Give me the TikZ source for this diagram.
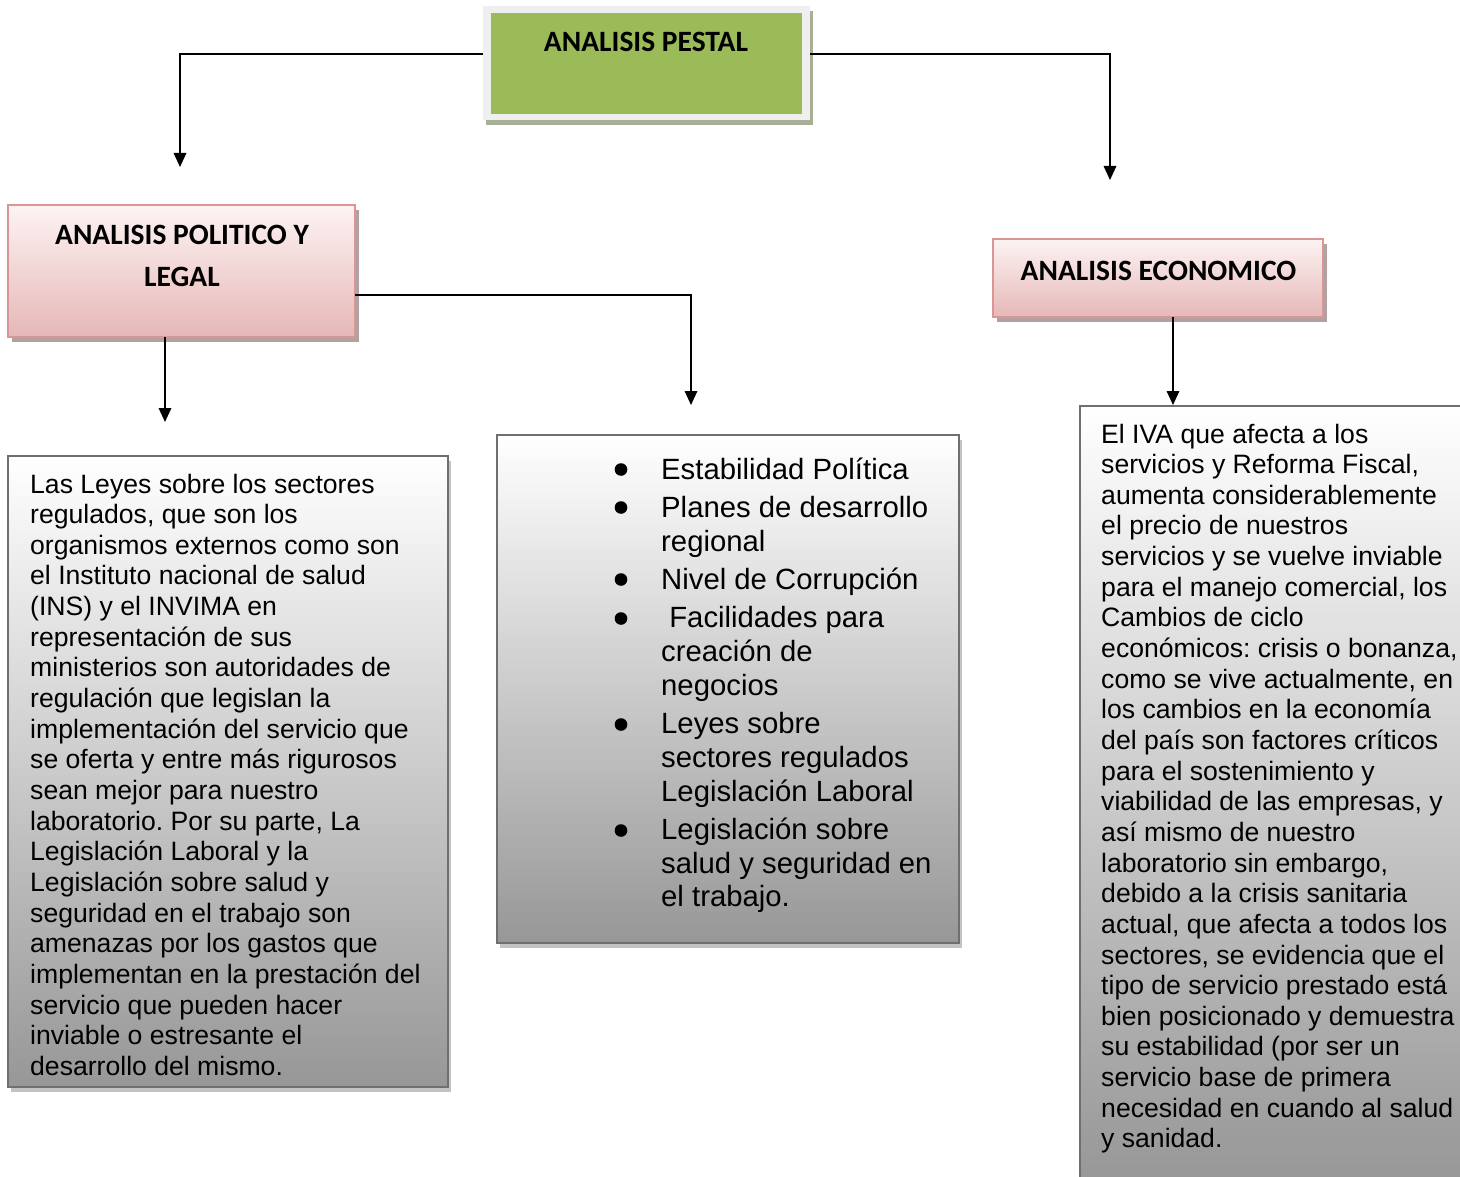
\documentclass[tikz,border=0pt]{standalone}
\usepackage{fontspec}
\setmainfont{Liberation Sans}
\newfontfamily\calib{Carlito}
\usetikzlibrary{arrows.meta,shadows}
\definecolor{pgreen}{HTML}{9BBB59}
\definecolor{framegray}{HTML}{EFEFEF}
\definecolor{frameshadow}{HTML}{A7AF97}
\definecolor{pinkborder}{HTML}{D99694}
\definecolor{pinktop}{HTML}{FDF3F3}
\definecolor{pinkbot}{HTML}{E5B8B7}
\definecolor{pinkshadow}{HTML}{B3A0A0}
\definecolor{grayborder}{HTML}{6F6F6F}
\definecolor{graybot}{HTML}{979797}
\definecolor{grayshadow}{HTML}{C3C3C3}
\frenchspacing
\newcommand\txtlines[1]{\vtop{\frenchspacing\lineskiplimit=-\maxdimen\halign{##\hfil\cr#1\crcr}}}
\newcommand\itemgap{\noalign{\vskip4.7pt}}
\begin{document}
\begin{tikzpicture}[x=1pt,y=-1pt,
  conn/.style={line width=1.7pt,-{Triangle[length=14pt,width=12.5pt]}},
  framebox/.style={fill=framegray,inner sep=0pt,outer sep=0pt,
    drop shadow={shadow xshift=3pt,shadow yshift=-5pt,fill=frameshadow,opacity=1}},
  pinkbox/.style={draw=pinkborder,line width=2pt,top color=pinktop,bottom color=pinkbot,
    inner sep=0pt,outer sep=0pt,
    drop shadow={shadow xshift=4pt,shadow yshift=-5pt,fill=pinkshadow,opacity=1}},
  graybox/.style={draw=grayborder,line width=2pt,top color=white,bottom color=graybot,
    inner sep=0pt,outer sep=0pt,
    drop shadow={shadow xshift=3pt,shadow yshift=-5pt,fill=grayshadow,opacity=1}},
  ttl/.style={font=\calib\bfseries\fontsize{29.5}{34}\selectfont,inner sep=0pt,anchor=base},
  bodytxt/.style={font=\fontsize{26.6}{30.65}\selectfont,inner sep=0pt,anchor=base west},
  listtxt/.style={font=\fontsize{29.3}{33.7}\selectfont,inner sep=0pt,anchor=base west},
  bulletdot/.style={fill=black}
]
\useasboundingbox (0,0) rectangle (1460,1177);
\fill[white] (0,0) rectangle (1460,1177);

% top box
\node[framebox,minimum width=327pt,minimum height=114pt,anchor=north west] (pestal) at (483,6) {};
\fill[pgreen] (491,13) rectangle (802,114);
\node[ttl] (pestaltxt) at (646,52) {ANALISIS PESTAL};

% pink boxes
\node[pinkbox,minimum width=347pt,minimum height=132pt,anchor=north west] (pol) at (8,205) {};
\node[ttl] (poltxt1) at (182,245) {ANALISIS POLITICO Y};
\node[ttl] (poltxt2) at (182,287) {LEGAL};

\node[pinkbox,minimum width=330pt,minimum height=78pt,anchor=north west] (eco) at (993,239) {};
\node[ttl] (ecotxt) at (1158.5,280) {ANALISIS ECONOMICO};

% gray boxes
\node[graybox,minimum width=440pt,minimum height=631pt,anchor=north west] (leyes) at (8,456) {};
\node[graybox,minimum width=462pt,minimum height=508pt,anchor=north west] (lista) at (497,435) {};
\node[graybox,minimum width=400pt,minimum height=776pt,anchor=north west] (iva) at (1080,406) {};

% left text
\node[bodytxt] (leyestxt) at (30,493) {\txtlines{%
Las Leyes sobre los sectores\cr
regulados, que son los\cr
organismos externos como son\cr
el Instituto nacional de salud\cr
(INS) y el INVIMA en\cr
representación de sus\cr
ministerios son autoridades de\cr
regulación que legislan la\cr
implementación del servicio que\cr
se oferta y entre más rigurosos\cr
sean mejor para nuestro\cr
laboratorio. Por su parte, La\cr
Legislación Laboral y la\cr
Legislación sobre salud y\cr
seguridad en el trabajo son\cr
amenazas por los gastos que\cr
implementan en la prestación del\cr
servicio que pueden hacer\cr
inviable o estresante el\cr
desarrollo del mismo.}};

% middle list
\node[listtxt] (listatxt) at (661,479) {\txtlines{%
Estabilidad Política\cr\itemgap
Planes de desarrollo\cr
regional\cr\itemgap
Nivel de Corrupción\cr\itemgap
\ Facilidades para\cr
creación de\cr
negocios\cr\itemgap
Leyes sobre\cr
sectores regulados\cr
Legislación Laboral\cr\itemgap
Legislación sobre\cr
salud y seguridad en\cr
el trabajo.}};
\foreach \yy in {469.5,507.5,579.5,618.5,724.5,830.5}
  \fill[bulletdot] (621,\yy) circle (6.3pt);

% right text
\node[bodytxt] (ivatxt) at (1101,443) {\txtlines{%
El IVA que afecta a los\cr
servicios y Reforma Fiscal,\cr
aumenta considerablemente\cr
el precio de nuestros\cr
servicios y se vuelve inviable\cr
para el manejo comercial, los\cr
Cambios de ciclo\cr
económicos: crisis o bonanza,\cr
como se vive actualmente, en\cr
los cambios en la economía\cr
del país son factores críticos\cr
para el sostenimiento y\cr
viabilidad de las empresas, y\cr
así mismo de nuestro\cr
laboratorio sin embargo,\cr
debido a la crisis sanitaria\cr
actual, que afecta a todos los\cr
sectores, se evidencia que el\cr
tipo de servicio prestado está\cr
bien posicionado y demuestra\cr
su estabilidad (por ser un\cr
servicio base de primera\cr
necesidad en cuando al salud\cr
y sanidad.}};

% connectors
\coordinate (ya) at (0,54);
\coordinate (t1) at (180,167);
\coordinate (t2) at (1110,180);
\coordinate (yb) at (0,295);
\coordinate (t3) at (691,405);
\coordinate (t4) at (165,422);
\coordinate (t5) at (1173,405);
\draw[conn] (pestal.west |- ya) -| (t1);
\draw[conn] (pestal.east |- ya) -| (t2);
\draw[conn] (pol.east |- yb) -| (t3);
\draw[conn] (t4 |- pol.south) -- (t4);
\draw[conn] (t5 |- eco.south) -- (t5);
\end{tikzpicture}
\end{document}
